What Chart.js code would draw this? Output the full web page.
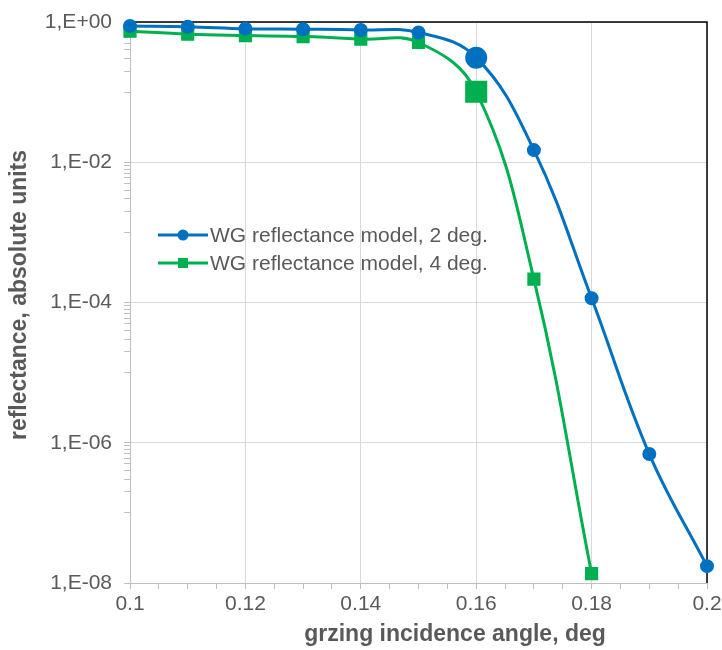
<!DOCTYPE html>
<html>
<head>
<meta charset="utf-8">
<script src="https://cdn.jsdelivr.net/npm/chart.js@4.4.1/dist/chart.umd.min.js"></script>
<style>
  body { margin: 0; background: #fff; }
</style>
</head>
<body>
<canvas id="reflChart" width="722" height="650"></canvas>
<script>
// data
const angles2 = [0.10, 0.11, 0.12, 0.13, 0.14, 0.15, 0.16, 0.17, 0.18, 0.19, 0.20];
const refl2deg = [0.877, 0.857, 0.80, 0.79, 0.77, 0.71, 0.31, 0.0149, 1.15e-4, 6.9e-7, 1.74e-8];
const angles4 = [0.10, 0.11, 0.12, 0.13, 0.14, 0.15, 0.16, 0.17, 0.18];
const refl4deg = [0.74, 0.67, 0.64, 0.62, 0.57, 0.51, 0.101, 2.16e-4, 1.36e-8];
const seriesNames = ['WG reflectance model, 2 deg.', 'WG reflectance model, 4 deg.'];
const xMajor = [0.1, 0.12, 0.14, 0.16, 0.18, 0.2];
const yMajor = [1, 1e-2, 1e-4, 1e-6, 1e-8];
const xTitle = 'grzing incidence angle, deg';
const yTitle = 'reflectance, absolute units';

const BLUE = '#0070c0';
const GREEN = '#00b050';
const GRID = '#d9d9d9';
const AXIS = '#bfbfbf';
const TEXT = '#595959';
const FONT = "'Liberation Sans', Arial, sans-serif";
const bigIdx = 6; // the 0.16 deg points are drawn bigger

function isMajor(list, v) {
  return list.some(m => Math.abs(m - v) < Math.abs(m) * 1e-6 + 1e-9);
}

function fmtExp(v) {
  const e = Math.round(Math.log10(v));
  const a = Math.abs(e);
  return '1,E' + (e < 0 ? '-' : '+') + (a < 10 ? '0' : '') + a;
}

// black top/right frame, drawn under the series
const frame = {
  id: 'frame',
  beforeDatasetsDraw(chart) {
    const ctx = chart.ctx;
    const area = chart.chartArea;
    ctx.save();
    ctx.strokeStyle = '#000000';
    ctx.lineWidth = 1.5;
    ctx.beginPath();
    ctx.moveTo(area.left, area.top);
    ctx.lineTo(area.right, area.top);
    ctx.lineTo(area.right, area.bottom);
    ctx.stroke();
    ctx.restore();
  }
};

// axis titles and the legend, placed like in the Excel chart
const extras = {
  id: 'extras',
  afterDraw(chart) {
    const ctx = chart.ctx;
    ctx.save();
    ctx.fillStyle = TEXT;
    ctx.font = 'bold 23px ' + FONT;
    ctx.textAlign = 'center';
    ctx.textBaseline = 'middle';
    ctx.fillText(xTitle, 455, 635);
    ctx.translate(20, 295);
    ctx.rotate(-Math.PI / 2);
    ctx.fillText(yTitle, 0, 0);
    ctx.restore();

    ctx.save();
    chart.data.datasets.forEach((ds, i) => {
      const y = 235 + i * 28;
      ctx.strokeStyle = ds.borderColor;
      ctx.lineWidth = 3;
      ctx.beginPath();
      ctx.moveTo(158, y);
      ctx.lineTo(208, y);
      ctx.stroke();
      ctx.fillStyle = ds.borderColor;
      if (ds.pointStyle === 'rect') {
        ctx.fillRect(178, y - 5, 10, 10);
      } else {
        ctx.beginPath();
        ctx.arc(183, y, 5.5, 0, Math.PI * 2);
        ctx.fill();
      }
      ctx.fillStyle = TEXT;
      ctx.font = '21px ' + FONT;
      ctx.textBaseline = 'middle';
      ctx.fillText(ds.label, 210, y + 1);
    });
    ctx.restore();
  }
};

new Chart(document.getElementById('reflChart'), {
  type: 'line',
  data: {
    datasets: [{
      label: seriesNames[0],
      data: angles2.map((a, i) => ({ x: a, y: refl2deg[i] })),
      borderColor: BLUE,
      backgroundColor: BLUE,
      borderWidth: 3,
      pointStyle: 'circle',
      pointRadius: ctx => ctx.dataIndex === bigIdx ? 9.5 : 5.5,
      pointHoverRadius: ctx => ctx.dataIndex === bigIdx ? 9.5 : 5.5,
      tension: 0.4,
      clip: false
    }, {
      label: seriesNames[1],
      data: angles4.map((a, i) => ({ x: a, y: refl4deg[i] })),
      borderColor: GREEN,
      backgroundColor: GREEN,
      borderWidth: 3,
      pointStyle: 'rect',
      pointRadius: ctx => ctx.dataIndex === bigIdx ? 13.5 : 7.2,
      pointHoverRadius: ctx => ctx.dataIndex === bigIdx ? 13.5 : 7.2,
      tension: 0.4,
      clip: false
    }]
  },
  options: {
    responsive: false,
    animation: false,
    layout: { padding: { top: 22, right: 15, left: 0, bottom: 0 } },
    plugins: {
      legend: { display: false },
      tooltip: { enabled: false }
    },
    scales: {
      x: {
        type: 'linear',
        min: 0.1,
        max: 0.2,
        afterBuildTicks(scale) {
          const t = [];
          for (let i = 0; i <= 20; i++) t.push({ value: 0.1 + i * 0.005 });
          scale.ticks = t;
        },
        afterFit(scale) {
          scale.height = 67;
          scale.paddingRight = 0;
          scale.paddingLeft = 0;
        },
        grid: {
          color: c => {
            const v = c.tick ? c.tick.value : 0;
            return isMajor(xMajor, v) ? GRID : 'rgba(0,0,0,0)';
          },
          tickColor: AXIS,
          tickLength: 6,
          drawTicks: true
        },
        border: { color: AXIS, width: 1 },
        ticks: {
          autoSkip: false,
          maxRotation: 0,
          padding: 3,
          color: TEXT,
          font: { family: FONT, size: 21 },
          callback: v => isMajor(xMajor, v) ? String(Math.round(v * 100) / 100) : ''
        }
      },
      y: {
        type: 'logarithmic',
        min: 1e-8,
        max: 1,
        afterBuildTicks(scale) {
          const t = [];
          yMajor.forEach(m => {
            t.push({ value: m });
            // minor ticks sit in the decade right below each major
            if (m > 1e-8) {
              for (let k = 9; k >= 1; k--) t.push({ value: m * k / 10 });
            }
          });
          scale.ticks = t;
        },
        afterFit(scale) {
          scale.width = 130;
          scale.paddingTop = 0;
          scale.paddingBottom = 0;
        },
        grid: {
          color: c => {
            const v = c.tick ? c.tick.value : 0;
            return isMajor(yMajor, v) ? GRID : 'rgba(0,0,0,0)';
          },
          tickColor: AXIS,
          tickLength: 6,
          drawTicks: true
        },
        border: { color: AXIS, width: 1 },
        ticks: {
          autoSkip: false,
          padding: 12,
          color: TEXT,
          font: { family: FONT, size: 21 },
          callback: v => isMajor(yMajor, v) ? fmtExp(v) : ''
        }
      }
    }
  },
  plugins: [frame, extras]
});
</script>
</body>
</html>
